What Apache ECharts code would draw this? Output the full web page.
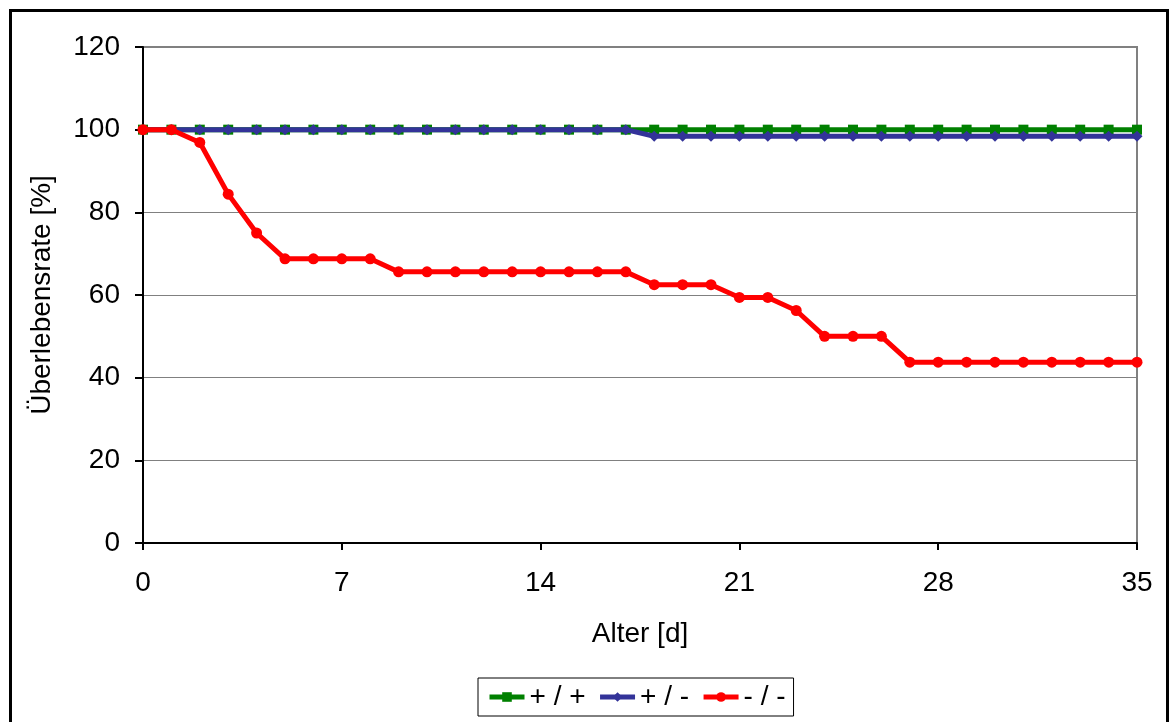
<!DOCTYPE html>
<html>
<head>
<meta charset="utf-8">
<script src="https://cdn.jsdelivr.net/npm/echarts@6/dist/echarts.min.js"></script>
<style>
  html, body { margin: 0; padding: 0; background: #fff; }
  #chart { width: 1172px; height: 722px; }
</style>
</head>
<body>
<div id="chart"></div>
<script>
const days = [0, 1, 2, 3, 4, 5, 6, 7, 8, 9, 10, 11, 12, 13, 14, 15, 16, 17,
  18, 19, 20, 21, 22, 23, 24, 25, 26, 27, 28, 29, 30, 31, 32, 33, 34, 35]

const seriesNames = ['+ / +', '+ / -', '- / -']

const plusPlus = [100, 100, 100, 100, 100, 100, 100, 100, 100, 100, 100, 100, 100, 100, 100, 100, 100, 100,
  100, 100, 100, 100, 100, 100, 100, 100, 100, 100, 100, 100, 100, 100, 100, 100, 100, 100]

const plusMinus = [100, 100, 100, 100, 100, 100, 100, 100, 100, 100, 100, 100, 100, 100, 100, 100, 100, 100,
  98.4, 98.4, 98.4, 98.4, 98.4, 98.4, 98.4, 98.4, 98.4, 98.4, 98.4, 98.4, 98.4, 98.4, 98.4, 98.4, 98.4, 98.4]

const minusMinus = [100, 100, 96.9, 84.4, 75, 68.75, 68.75, 68.75, 68.75, 65.6, 65.6, 65.6, 65.6, 65.6, 65.6, 65.6, 65.6, 65.6,
  62.5, 62.5, 62.5, 59.4, 59.4, 56.25, 50, 50, 50, 43.75, 43.75, 43.75, 43.75, 43.75, 43.75, 43.75, 43.75, 43.75]

const toPairs = (vals) => days.map((d, i) => [d, vals[i]])

const chart = echarts.init(document.getElementById('chart'))

const font = 'Liberation Sans, Arial, sans-serif'

const option = {
  animation: false,
  textStyle: { fontFamily: font },
  graphic: [
    {
      type: 'rect',
      shape: { x: 10.5, y: 10.5, width: 1157, height: 760 },
      style: { fill: 'none', stroke: '#000', lineWidth: 3 },
      z: 100
    }
  ],
  grid: {
    left: 143,
    right: 35,
    top: 47,
    bottom: 179,
    show: true,
    borderColor: '#808080',
    borderWidth: 2
  },
  legend: {
    data: seriesNames,
    bottom: 6,
    left: 478,
    itemWidth: 35,
    itemHeight: 12,
    itemGap: 12,
    padding: [5, 8, 5, 9],
    borderColor: '#000',
    borderWidth: 1,
    lineStyle: { width: 5 },
    textStyle: { fontSize: 28, color: '#000', fontFamily: font }
  },
  xAxis: {
    type: 'value',
    min: 0,
    max: 35,
    interval: 7,
    name: 'Alter [d]',
    nameLocation: 'middle',
    nameGap: 77,
    nameTextStyle: { fontSize: 28, color: '#000' },
    axisLine: { lineStyle: { color: '#000', width: 2 } },
    axisTick: { length: 7, lineStyle: { color: '#000', width: 2 } },
    axisLabel: { fontSize: 28, color: '#000', margin: 26 },
    splitLine: { show: false }
  },
  yAxis: {
    type: 'value',
    min: 0,
    max: 120,
    interval: 20,
    name: 'Überlebensrate [%]',
    nameLocation: 'middle',
    nameGap: 87,
    nameTextStyle: { fontSize: 28, color: '#000' },
    axisLine: { show: true, lineStyle: { color: '#000', width: 2 } },
    axisTick: { show: true, length: 8, lineStyle: { color: '#000', width: 2 } },
    axisLabel: { fontSize: 28, color: '#000', margin: 23 },
    splitLine: { lineStyle: { color: '#808080', width: 1 } }
  },
  series: [
    {
      name: seriesNames[0],
      type: 'line',
      data: toPairs(plusPlus),
      symbol: 'rect',
      symbolSize: 10,
      color: '#008000',
      lineStyle: { width: 5, color: '#008000' },
      itemStyle: { color: '#008000' },
      z: 2
    },
    {
      name: seriesNames[1],
      type: 'line',
      data: toPairs(plusMinus),
      symbol: 'diamond',
      symbolSize: 11,
      color: '#333399',
      lineStyle: { width: 5, color: '#333399' },
      itemStyle: { color: '#333399' },
      z: 3
    },
    {
      name: seriesNames[2],
      type: 'line',
      data: toPairs(minusMinus),
      symbol: 'circle',
      symbolSize: 11,
      color: '#ff0000',
      lineStyle: { width: 5, color: '#ff0000' },
      itemStyle: { color: '#ff0000' },
      z: 4
    }
  ]
}

chart.setOption(option)
</script>
</body>
</html>
